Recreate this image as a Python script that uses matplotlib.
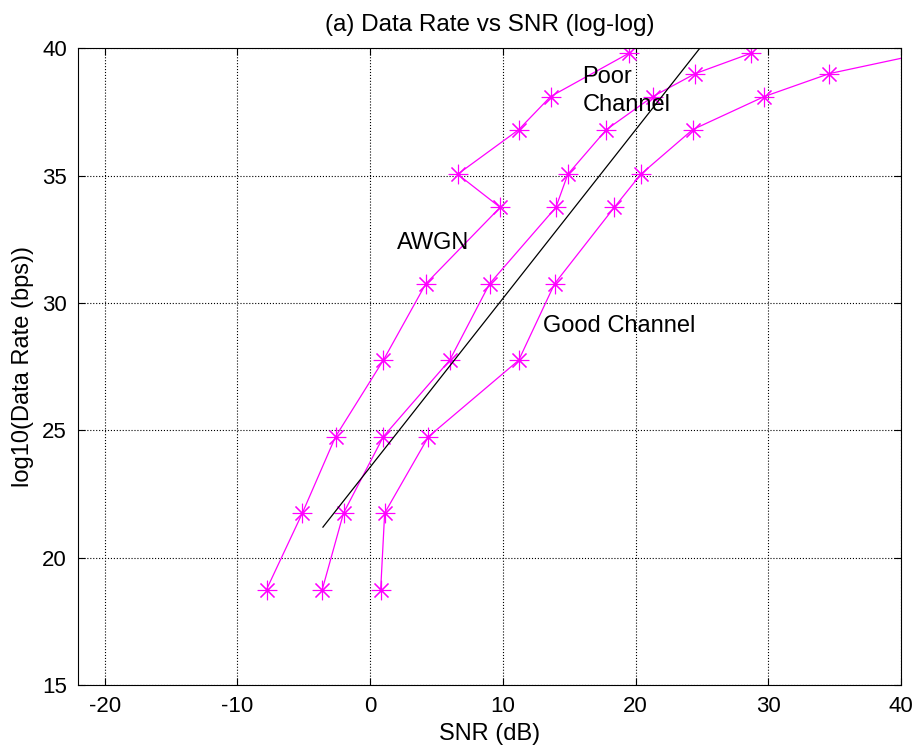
import numpy as np
import matplotlib.pyplot as plt

# curvas (SNR en dB, log10 de la tasa)
awgn_snr = [-7.8, -5.1, -2.6, 1.0, 4.2, 9.8, 6.6, 11.2, 13.6, 19.5]
awgn_rate = [18.75, 21.75, 24.75, 27.75, 30.75, 33.75, 35.05, 36.8, 38.1, 39.8]

poor_snr = [-3.6, -2.0, 1.0, 6.0, 9.0, 14.0, 14.9, 17.8, 21.3, 24.5, 28.7]
poor_rate = [18.75, 21.75, 24.75, 27.75, 30.75, 33.75, 35.05, 36.8, 38.1, 39.0, 39.8]

good_snr = [0.8, 1.1, 4.4, 11.2, 13.9, 18.4, 20.4, 24.3, 29.7, 34.6, 41.8]
good_rate = [18.75, 21.75, 24.75, 27.75, 30.75, 33.75, 35.05, 36.8, 38.1, 39.0, 39.8]

ref_snr = [-3.55, 24.85]
ref_rate = [21.2, 40.0]

MAGENTA = '#ff00ff'
plt.rcParams['font.family'] = ['Liberation Sans', 'DejaVu Sans']
plt.rcParams['axes.unicode_minus'] = False

fig = plt.figure(figsize=(9.18, 7.52), dpi=100)
ax = fig.add_axes([0.085, 0.089, 0.8965, 0.847])

for xs, ys in [(awgn_snr, awgn_rate), (poor_snr, poor_rate), (good_snr, good_rate)]:
    ax.plot(xs, ys, color=MAGENTA, lw=0.9, marker=(8, 2, 0), ms=14, mew=0.8, mec=MAGENTA)

ax.plot(ref_snr, ref_rate, color='black', lw=0.9)

ax.text(16.0, 38.85, 'Poor', fontsize=17, va='center')
ax.text(16.0, 37.75, 'Channel', fontsize=17, va='center')
ax.text(2.0, 32.35, 'AWGN', fontsize=17, va='center')
ax.text(13.0, 29.1, 'Good Channel', fontsize=17, va='center')

ax.set_xlim(-22, 40)
ax.set_ylim(15, 40)
ax.set_xticks(np.arange(-20, 41, 10))
ax.set_yticks(np.arange(15, 41, 5))
ax.grid(True, color='black', linestyle=':', linewidth=0.8)
ax.tick_params(direction='in', length=5, labelsize=16, top=True, right=True, pad=8)
for s in ax.spines.values():
    s.set_linewidth(0.8)

ax.set_xlabel('SNR (dB)', fontsize=17, labelpad=4)
ax.set_ylabel('log10(Data Rate (bps))', fontsize=17, labelpad=6)
ax.set_title('(a) Data Rate vs SNR (log-log)', fontsize=17.5, pad=12)

fig.savefig('out.png', dpi=100)
